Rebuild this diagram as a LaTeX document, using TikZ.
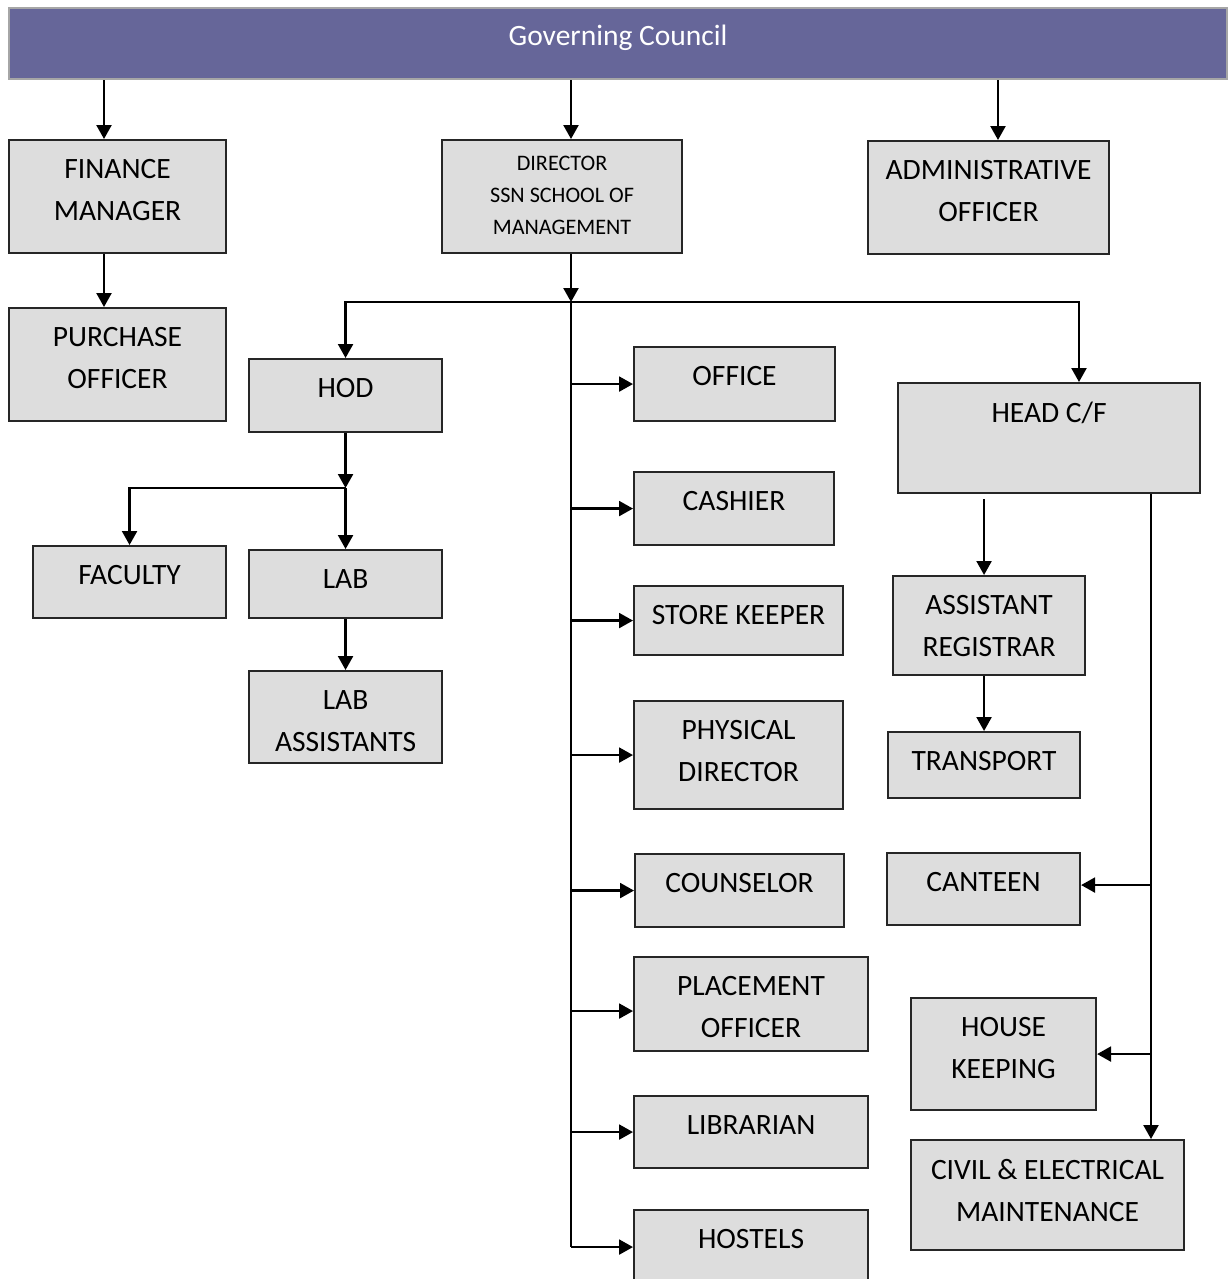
\documentclass[tikz,border=0pt]{standalone}
\usepackage{fontspec}
\setmainfont{Carlito}
\usetikzlibrary{positioning,arrows.meta}
\definecolor{councilblue}{HTML}{666699}
\definecolor{boxgray}{HTML}{DDDDDD}
\definecolor{rimgray}{HTML}{A6A6A6}

\begin{document}
\begin{tikzpicture}[
        x=0.02cm, y=-0.02cm,
        unit/.style={draw=black!85, fill=boxgray, line width=1.2pt, anchor=north west, inner sep=0},
        lbl/.style={align=center, inner sep=0, font=\fontsize{16.8}{23.8}\selectfont},
        small_lbl/.style={align=center, inner sep=0, font=\fontsize{12.6}{18.2}\selectfont},
        link/.style={line width=1.3pt},
        arr/.style={link, -{Triangle[width=0.3cm,length=0.28cm]}}
        ]
    \useasboundingbox (0,0) rectangle (1228,1279);

    % top of the chart
    \node[unit, draw=rimgray, fill=councilblue, minimum width=1218*0.02cm, minimum height=71*0.02cm] (gc) at (8,7) {};
    \node[lbl, text=white, below=0.36cm of gc.north] (gc-t) {Governing Council};

    \node[unit, minimum width=217*0.02cm, minimum height=113*0.02cm] (fin) at (8,139) {};
    \node[lbl, below=0.40cm of fin.north] (fin-t) {FINANCE\\MANAGER};
    \node[unit, minimum width=240*0.02cm, minimum height=113*0.02cm] (dir) at (441,139) {};
    \node[small_lbl, below=0.33cm of dir.north] (dir-t) {DIRECTOR\\SSN SCHOOL OF\\MANAGEMENT};
    \node[unit, minimum width=241*0.02cm, minimum height=113*0.02cm] (adm) at (867,140) {};
    \node[lbl, below=0.40cm of adm.north] (adm-t) {ADMINISTRATIVE\\OFFICER};
    \node[unit, minimum width=217*0.02cm, minimum height=113*0.02cm] (pur) at (8,307) {};
    \node[lbl, below=0.40cm of pur.north] (pur-t) {PURCHASE\\OFFICER};

    % academic side
    \node[unit, minimum width=193*0.02cm, minimum height=73*0.02cm] (hod) at (248,358) {};
    \node[lbl, below=0.40cm of hod.north] (hod-t) {HOD};
    \node[unit, minimum width=193*0.02cm, minimum height=72*0.02cm] (fac) at (32,545) {};
    \node[lbl, below=0.40cm of fac.north] (fac-t) {FACULTY};
    \node[unit, minimum width=193*0.02cm, minimum height=68*0.02cm] (lab) at (248,549) {};
    \node[lbl, below=0.40cm of lab.north] (lab-t) {LAB};
    \node[unit, minimum width=193*0.02cm, minimum height=92*0.02cm] (laba) at (248,670) {};
    \node[lbl, below=0.40cm of laba.north] (laba-t) {LAB\\ASSISTANTS};

    % staff under the director
    \node[unit, minimum width=201*0.02cm, minimum height=74*0.02cm] (off) at (633,346) {};
    \node[lbl, below=0.40cm of off.north] (off-t) {OFFICE};
    \node[unit, minimum width=200*0.02cm, minimum height=73*0.02cm] (cas) at (633,471) {};
    \node[lbl, below=0.40cm of cas.north] (cas-t) {CASHIER};
    \node[unit, minimum width=209*0.02cm, minimum height=69*0.02cm] (sto) at (633,585) {};
    \node[lbl, below=0.40cm of sto.north] (sto-t) {STORE KEEPER};
    \node[unit, minimum width=209*0.02cm, minimum height=108*0.02cm] (phy) at (633,700) {};
    \node[lbl, below=0.40cm of phy.north] (phy-t) {PHYSICAL\\DIRECTOR};
    \node[unit, minimum width=209*0.02cm, minimum height=73*0.02cm] (cou) at (634,853) {};
    \node[lbl, below=0.40cm of cou.north] (cou-t) {COUNSELOR};
    \node[unit, minimum width=234*0.02cm, minimum height=94*0.02cm] (pla) at (633,956) {};
    \node[lbl, below=0.40cm of pla.north] (pla-t) {PLACEMENT\\OFFICER};
    \node[unit, minimum width=234*0.02cm, minimum height=72*0.02cm] (lib) at (633,1095) {};
    \node[lbl, below=0.40cm of lib.north] (lib-t) {LIBRARIAN};
    \node[unit, minimum width=234*0.02cm, minimum height=74*0.02cm] (hos) at (633,1209) {};
    \node[lbl, below=0.40cm of hos.north] (hos-t) {HOSTELS};

    % head c/f side
    \node[unit, minimum width=302*0.02cm, minimum height=110*0.02cm] (hcf) at (897,382) {};
    \node[lbl, below=0.40cm of hcf.north] (hcf-t) {HEAD C/F};
    \node[unit, minimum width=192*0.02cm, minimum height=99*0.02cm] (ar) at (892,575) {};
    \node[lbl, below=0.40cm of ar.north] (ar-t) {ASSISTANT\\REGISTRAR};
    \node[unit, minimum width=192*0.02cm, minimum height=66*0.02cm] (tr) at (887,731) {};
    \node[lbl, below=0.40cm of tr.north] (tr-t) {TRANSPORT};
    \node[unit, minimum width=193*0.02cm, minimum height=72*0.02cm] (can) at (886,852) {};
    \node[lbl, below=0.40cm of can.north] (can-t) {CANTEEN};
    \node[unit, minimum width=185*0.02cm, minimum height=112*0.02cm] (hk) at (910,997) {};
    \node[lbl, below=0.40cm of hk.north] (hk-t) {HOUSE\\KEEPING};
    \node[unit, minimum width=273*0.02cm, minimum height=110*0.02cm] (cem) at (910,1139) {};
    \node[lbl, below=0.40cm of cem.north] (cem-t) {CIVIL \& ELECTRICAL\\MAINTENANCE};

    % links from the council
    \draw[arr] (gc.south -| 104,0) -- (fin.north -| 104,0);
    \draw[arr] (gc.south -| 571,0) -- (dir.north -| 571,0);
    \draw[arr] (gc.south -| 998,0) -- (adm.north -| 998,0);
    \draw[arr] (fin.south -| 104,0) -- (pur.north -| 104,0);

    % director
    \coordinate (jd) at (571,302);
    \draw[arr] (dir.south -| jd) -- (jd);
    \draw[arr] (jd) -| (hod.north);
    \draw[arr] (jd) -| (hcf.north -| 1079,0);
    \draw[link] (jd) -- (hos.west -| jd);
    \foreach \n in {off,cas,sto,phy,cou,lib,hos}
        \draw[arr] (\n.west -| jd) -- (\n.west);
    \draw[arr] ([yshift=-0.14cm]pla.west -| jd) -- ([yshift=-0.14cm]pla.west);

    % hod
    \coordinate (jh) at (hod.south |- 0,488);
    \draw[arr] (hod.south) -- (jh);
    \draw[arr] (jh) -| (fac.north);
    \draw[arr] (jh) -- (lab.north);
    \draw[arr] (lab.south) -- (laba.north);

    % head c/f
    \draw[arr] ([yshift=-0.1cm]hcf.south -| tr.north) -- (ar.north -| tr.north);
    \draw[arr] (ar.south -| tr.north) -- (tr.north);
    \draw[arr] (hcf.south -| 1151,0) -- (cem.north -| 1151,0);
    \draw[arr] ([yshift=0.08cm]can.east -| 1151,0) -- ([yshift=0.08cm]can.east);
    \draw[arr] (hk.east -| 1151,0) -- (hk.east);
\end{tikzpicture}
\end{document}
